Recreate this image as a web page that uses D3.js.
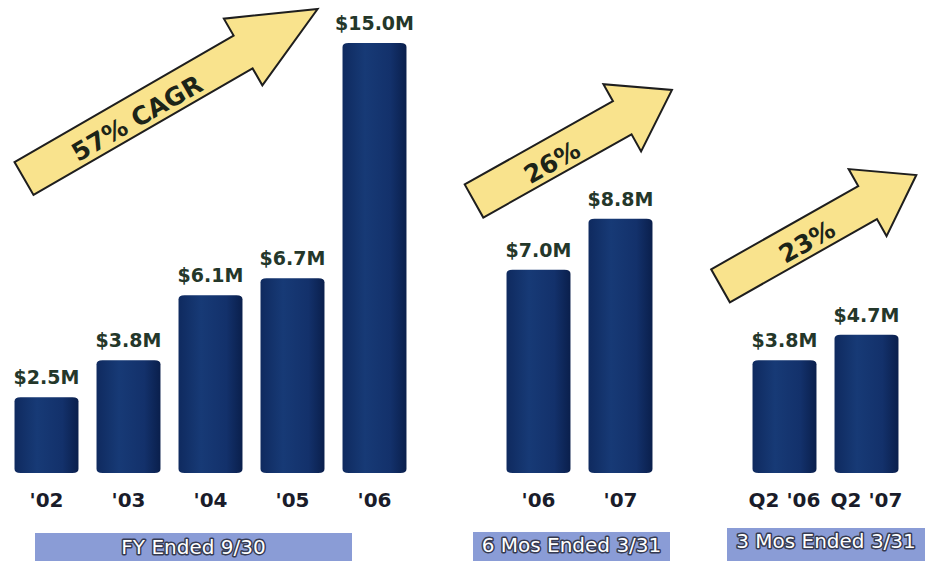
<!DOCTYPE html>
<html>
<head>
<meta charset="utf-8">
<script src="https://cdn.jsdelivr.net/npm/d3@7"></script>
<style>
  html, body { margin: 0; padding: 0; background: #ffffff; }
  svg { display: block; }
</style>
</head>
<body>
<script>
// Revenue by reporting period, in $ millions
const fyYears = ["'02", "'03", "'04", "'05", "'06"];
const fyRevenue = [2.5, 3.8, 6.1, 6.7, 15.0];
const sixMoPeriods = ["'06", "'07"];
const sixMoRevenue = [7.0, 8.8];
const threeMoPeriods = ["Q2 '06", "Q2 '07"];
const threeMoRevenue = [3.8, 4.7];
const groupTitles = ["FY Ended 9/30", "6 Mos Ended 3/31", "3 Mos Ended 3/31"];
const growthLabels = ["57% CAGR", "26%", "23%"];

const width = 928, height = 561;

// One flat list of bars; empty spacer slots separate the three period groups
const bars = [
  ...fyYears.map((c, i) => ({ key: "fy" + i, label: c, value: fyRevenue[i] })),
  ...sixMoPeriods.map((c, i) => ({ key: "six" + i, label: c, value: sixMoRevenue[i] })),
  ...threeMoPeriods.map((c, i) => ({ key: "three" + i, label: c, value: threeMoRevenue[i] }))
];
const slots = ["fy0", "fy1", "fy2", "fy3", "fy4", "gapA", "six0", "six1", "gapB", "three0", "three1"];

const x = d3.scaleBand()
  .domain(slots)
  .range([5.5, 907.5])
  .paddingInner(0.22)
  .paddingOuter(0.11);

const y = d3.scaleLinear()
  .domain([0, 15])
  .range([468, 43]);

const svg = d3.select("body").append("svg")
  .attr("width", width)
  .attr("height", height);

const defs = svg.append("defs");
const grad = defs.append("linearGradient")
  .attr("id", "barFill")
  .attr("x1", "0%").attr("x2", "100%").attr("y1", "0%").attr("y2", "0%");
[["0%", "#0f2a5f"], ["35%", "#173a76"], ["75%", "#13316b"], ["100%", "#0a1f4c"]]
  .forEach(([o, c]) => grad.append("stop").attr("offset", o).attr("stop-color", c));

// Cylinder-like bars: softly rounded top and bottom
const baseExtra = 5;
function barPath(d) {
  const x0 = x(d.key), w = x.bandwidth();
  const top = y(d.value), bot = y(0) + baseExtra;
  const r = 6, ry = 4;
  return `M${x0},${top + ry}` +
    `Q${x0},${top} ${x0 + r},${top}` +
    `L${x0 + w - r},${top}` +
    `Q${x0 + w},${top} ${x0 + w},${top + ry}` +
    `L${x0 + w},${bot - ry}` +
    `Q${x0 + w},${bot} ${x0 + w - r},${bot}` +
    `L${x0 + r},${bot}` +
    `Q${x0},${bot} ${x0},${bot - ry}Z`;
}

svg.append("g").selectAll("path")
  .data(bars)
  .join("path")
  .attr("d", barPath)
  .attr("fill", "url(#barFill)");

// Value labels above each bar
svg.append("g").selectAll("text")
  .data(bars)
  .join("text")
  .attr("x", d => x(d.key) + x.bandwidth() / 2)
  .attr("y", d => y(d.value) - 13)
  .attr("text-anchor", "middle")
  .attr("font-family", "DejaVu Sans, sans-serif")
  .attr("font-weight", "bold")
  .attr("font-size", 19)
  .attr("fill", "#24372a")
  .text(d => "$" + d.value.toFixed(1) + "M");

// Period labels under the bars
svg.append("g").selectAll("text")
  .data(bars)
  .join("text")
  .attr("x", d => x(d.key) + x.bandwidth() / 2)
  .attr("y", 507)
  .attr("text-anchor", "middle")
  .attr("font-family", "DejaVu Sans, sans-serif")
  .attr("font-weight", "bold")
  .attr("font-size", 20)
  .attr("fill", "#1a1c2a")
  .text(d => d.label);

// Group caption boxes
const captionBoxes = [
  { x0: 35, x1: 352, y0: 533, base: 554 },
  { x0: 473, x1: 670, y0: 532, base: 552 },
  { x0: 727, x1: 925, y0: 528, base: 548 }
];
const cap = svg.append("g").selectAll("g")
  .data(groupTitles.map((t, i) => ({ title: t, box: captionBoxes[i] })))
  .join("g");
cap.append("rect")
  .attr("x", d => d.box.x0)
  .attr("y", d => d.box.y0)
  .attr("width", d => d.box.x1 - d.box.x0)
  .attr("height", d => height - d.box.y0)
  .attr("fill", "#8a9cd6");
cap.append("text")
  .attr("x", d => (d.box.x0 + d.box.x1) / 2)
  .attr("y", d => d.box.base)
  .attr("text-anchor", "middle")
  .attr("font-family", "DejaVu Sans, sans-serif")
  .attr("font-size", 20)
  .attr("fill", "#ffffff")
  .attr("stroke", "#353a50")
  .attr("stroke-width", 3)
  .attr("paint-order", "stroke")
  .attr("stroke-linejoin", "round")
  .text(d => d.title);

// Growth arrows
const arrowLayout = [
  { tx: 24, ty: 178.5, angle: 30, len: 339, head: 86, textAt: 128 },
  { tx: 474, ty: 201, angle: 29.3, len: 227, head: 57, textAt: 87 },
  { tx: 720.5, ty: 285.8, angle: 29.5, len: 225, head: 56, textAt: 97 }
];
const shaft = 19, headHalf = 38.5;
function arrowPath(a) {
  const L = a.len, h = a.head;
  return d3.line()([
    [0, -shaft], [L - h, -shaft], [L - h, -headHalf], [L, 0],
    [L - h, headHalf], [L - h, shaft], [0, shaft]
  ]) + "Z";
}
const arrows = svg.append("g").selectAll("g")
  .data(arrowLayout.map((a, i) => ({ ...a, label: growthLabels[i] })))
  .join("g")
  .attr("transform", d => `translate(${d.tx},${d.ty}) rotate(${-d.angle})`);
arrows.append("path")
  .attr("d", arrowPath)
  .attr("fill", "#f9e38d")
  .attr("stroke", "#1e1e1e")
  .attr("stroke-width", 2)
  .attr("stroke-linejoin", "miter");
arrows.append("text")
  .attr("x", d => d.textAt)
  .attr("y", 13)
  .attr("text-anchor", "middle")
  .attr("font-family", "DejaVu Sans, sans-serif")
  .attr("font-weight", "bold")
  .attr("font-size", 25)
  .attr("fill", "#1c2418")
  .text(d => d.label);
</script>
</body>
</html>
